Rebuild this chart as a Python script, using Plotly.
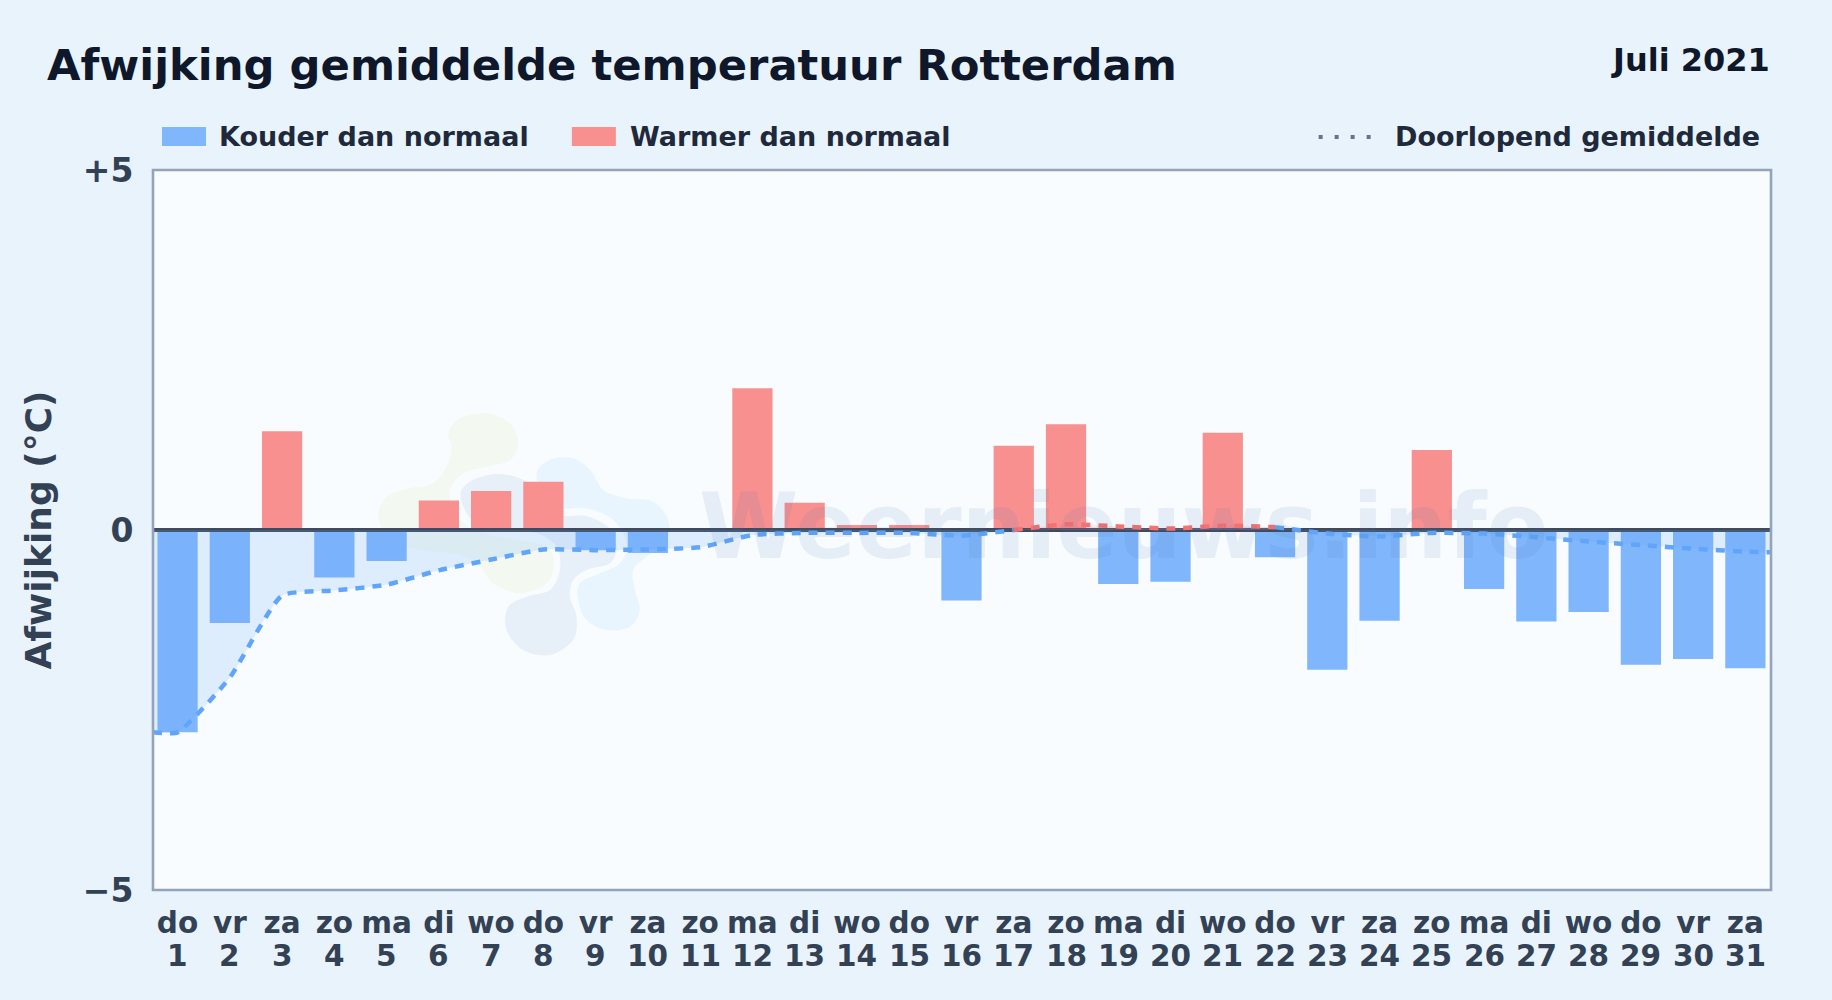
import plotly.graph_objects as go

days = list(range(1, 32))
weekdays = ["do","vr","za","zo","ma","di","wo","do","vr","za","zo","ma","di","wo","do","vr","za","zo","ma","di","wo","do","vr","za","zo","ma","di","wo","do","vr","za"]
anomaly = [-2.81,-1.29,1.37,-0.66,-0.43,0.41,0.54,0.67,-0.28,-0.32,0.0,1.97,0.38,0.07,0.07,-0.98,1.17,1.47,-0.75,-0.72,1.35,-0.38,-1.94,-1.26,1.11,-0.82,-1.27,-1.14,-1.87,-1.79,-1.92]
X_MIN, X_MAX = 0.53, 31.49
running_x = [X_MIN] + days + [X_MAX]
running_blue = [-2.81, -2.81,-2.05,-0.91,-0.84,-0.76,-0.56,-0.41,-0.27,-0.28,-0.27,-0.24,-0.07,-0.04,-0.04,-0.04,-0.08,0.0,
                None,None,None,None, 0.04,-0.05,-0.09,-0.04,-0.05,-0.10,-0.16,-0.21,-0.26,-0.30, -0.31]
running_red = [None]*17 + [0.0, 0.08,0.05,0.02,0.06,0.04] + [None]*10

W, H = 1832, 1000
L, R, T, B = 153, 1771.5, 170, 890
BAR_BLUE = "#80b6fc"; BAR_RED = "#f89090"
LINE_BLUE = "#60a5fa"; LINE_RED = "#f87171"

def pax(X): return (X - L) / (R - L)
def pay(Y): return (B - Y) / (B - T)

def blob(points):
    pts = [(360 + a / 3, 400 + b / 3) for a, b in points]
    n = len(pts)
    d = f"M{pax(pts[0][0]):.5f},{pay(pts[0][1]):.5f}"
    for i in range(n):
        p0, p1, p2, p3 = pts[i-1], pts[i], pts[(i+1) % n], pts[(i+2) % n]
        c1 = (p1[0] + (p2[0]-p0[0]) / 6, p1[1] + (p2[1]-p0[1]) / 6)
        c2 = (p2[0] - (p3[0]-p1[0]) / 6, p2[1] - (p3[1]-p1[1]) / 6)
        d += f" C{pax(c1[0]):.5f},{pay(c1[1]):.5f} {pax(c2[0]):.5f},{pay(c2[1]):.5f} {pax(p2[0]):.5f},{pay(p2[1]):.5f}"
    return d + " Z"

green = [(265,100),(300,55),(380,40),(450,70),(475,130),(450,180),(380,200),(320,215),(280,250),(270,300),(300,360),(370,400),(480,420),(560,440),(582,490),(560,550),(480,580),(400,550),(350,490),(280,460),(180,450),(90,420),(55,350),(80,290),(150,265),(220,250),(265,190),(275,140)]
grey = [(305,270),(350,235),(420,222),(490,240),(540,290),(600,345),(680,348),(750,385),(770,440),(750,490),(680,510),(640,540),(630,590),(650,650),(640,720),(570,765),(490,750),(440,690),(445,620),(500,590),(570,570),(600,510),(590,440),(530,400),(440,390),(350,370),(310,320)]
blue = [(530,220),(570,180),(640,175),(695,215),(730,270),(800,295),(880,305),(925,360),(920,420),(860,470),(820,510),(825,570),(840,630),(810,680),(740,690),(680,660),(655,600),(660,550),(720,520),(780,490),(800,430),(760,360),(680,325),(600,325),(550,290)]

shapes = [
    dict(type="path", path=blob(green), xref="paper", yref="paper", fillcolor="#f3f9f0", line_width=0, layer="below"),
    dict(type="path", path=blob(blue), xref="paper", yref="paper", fillcolor="#e9f5fe", line_width=0, layer="below"),
    dict(type="path", path=blob(grey), xref="paper", yref="paper", fillcolor="#e7f0f8", line_width=0, layer="below"),
    dict(type="rect", xref="paper", yref="paper", x0=0, x1=1, y0=0, y1=1, line=dict(color="#94a3b8", width=2.6), fillcolor="rgba(0,0,0,0)"),
    dict(type="rect", xref="paper", yref="paper", x0=pax(162), x1=pax(206), y0=pay(146), y1=pay(127), fillcolor=BAR_BLUE, line_width=0),
    dict(type="rect", xref="paper", yref="paper", x0=pax(572), x1=pax(616), y0=pay(146), y1=pay(127), fillcolor=BAR_RED, line_width=0),
    dict(type="line", xref="paper", yref="paper", x0=pax(1319), x1=pax(1378), y0=pay(137), y1=pay(137), line=dict(color="#64748b", width=4, dash="4px,12px")),
]

def anote(text, x, y, size, color, xanchor="left"):
    return dict(text=text, x=pax(x), y=pay(y), xref="paper", yref="paper", showarrow=False, xanchor=xanchor, yanchor="middle",
                font=dict(family="DejaVu Sans", size=size, color=color, weight="bold"))

annotations = [
    anote("Afwijking gemiddelde temperatuur Rotterdam", 45, 65, 43.3, "#0f172a"),
    anote("Juli 2021", 1773, 60, 32, "#0f172a", xanchor="right"),
    anote("Kouder dan normaal", 217, 137, 27, "#1e293b"),
    anote("Warmer dan normaal", 628, 137, 27, "#1e293b"),
    anote("Doorlopend gemiddelde", 1762, 137, 27, "#1e293b", xanchor="right"),
    dict(text="Weernieuws.info", x=pax(1124), y=pay(526), xref="paper", yref="paper", showarrow=False, xanchor="center", yanchor="middle",
         font=dict(family="DejaVu Sans", size=90, color="rgba(70,120,170,0.1)", weight="bold")),
]
for d in days:
    annotations.append(dict(text=str(d), x=d, y=pay(956), xref="x", yref="paper", showarrow=False, xanchor="center", yanchor="middle",
                            font=dict(family="DejaVu Sans", size=29.5, color="#334155", weight="bold")))

fig = go.Figure()
fig.add_bar(x=days, y=[v if v < 0 else None for v in anomaly], marker=dict(color=BAR_BLUE, line_width=0), width=0.77, name="Kouder dan normaal")
fig.add_bar(x=days, y=[v if v > 0 else None for v in anomaly], marker=dict(color=BAR_RED, line_width=0), width=0.77, name="Warmer dan normaal")
fig.add_scatter(x=[X_MIN, X_MAX], y=[0, 0], mode="lines", line=dict(color="#3f4a5c", width=4), name="0", hoverinfo="skip")
fig.add_scatter(x=running_x, y=running_blue, mode="lines", line=dict(color=LINE_BLUE, width=4.5, dash="9px,8px", shape="spline", smoothing=0.5),
                fill="tozeroy", fillcolor="rgba(96,165,250,0.17)", name="Doorlopend gemiddelde")
fig.add_scatter(x=running_x, y=running_red, mode="lines", line=dict(color=LINE_RED, width=4.5, dash="9px,8px", shape="spline", smoothing=0.5),
                fill="tozeroy", fillcolor="rgba(248,113,113,0.15)", name="Doorlopend gemiddelde (warm)")

fig.update_layout(
    width=W, height=H, barmode="overlay", showlegend=False,
    margin=dict(l=L, r=W-R, t=T, b=H-B, pad=0),
    paper_bgcolor="#e9f3fc", plot_bgcolor="#f8fcff",
    shapes=shapes, annotations=annotations,
    font=dict(family="DejaVu Sans", color="#334155"),
)
fig.update_xaxes(range=[X_MIN, X_MAX], tickmode="array", tickvals=days, ticktext=weekdays, tickangle=0,
                 tickfont=dict(size=29.5, color="#334155", weight="bold", family="DejaVu Sans"),
                 showgrid=False, zeroline=False, showline=False,
                 ticks="outside", ticklen=7, tickcolor="rgba(0,0,0,0)", automargin=False)
fig.update_yaxes(range=[-5, 5], tickmode="array", tickvals=[-5, 0, 5], ticktext=["−5", "0", "+5"],
                 tickfont=dict(size=33, color="#334155", weight="bold", family="DejaVu Sans"),
                 showgrid=False, zeroline=False, showline=False,
                 ticks="outside", ticklen=12, tickcolor="rgba(0,0,0,0)", automargin=False,
                 title=dict(text="Afwijking (°C)", standoff=20, font=dict(size=36, color="#334155", weight="bold", family="DejaVu Sans")))

fig.write_html("out.html", config=dict(displayModeBar=False), post_script="document.body.style.margin='0';document.body.style.overflow='hidden';")
